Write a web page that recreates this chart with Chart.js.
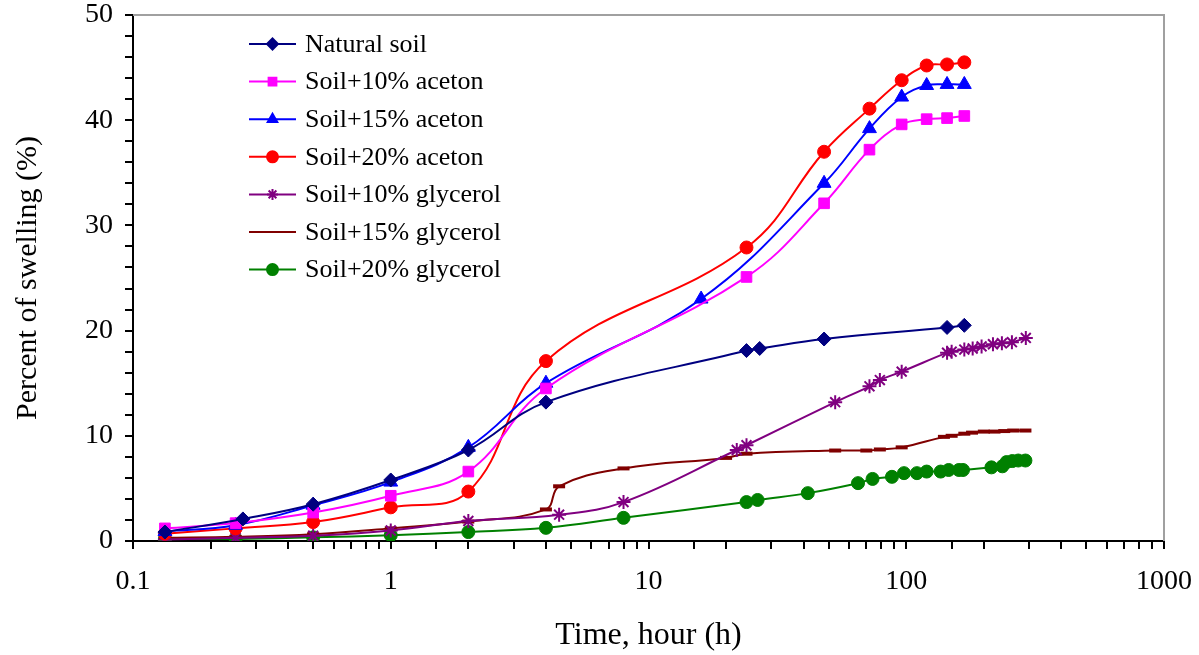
<!DOCTYPE html>
<html>
<head>
<meta charset="utf-8">
<title>Swelling</title>
<script src="https://cdn.jsdelivr.net/npm/chart.js"></script>
<style>
  html, body { margin: 0; padding: 0; background: #fff; }
  #wrap { width: 1199px; height: 655px; }
</style>
</head>
<body>
<div id="wrap"><canvas id="chart" width="1199" height="655"></canvas></div>
<script>
// time in hours, swelling in %
const naturalTime = [0.133, 0.267, 0.5, 1, 2, 4, 24, 27, 48, 144, 168];
const naturalSwell = [0.85, 2.1, 3.5, 5.8, 8.65, 13.2, 18.1, 18.3, 19.2, 20.3, 20.5];

const acet10Time = [0.133, 0.25, 0.5, 1, 2, 4, 24, 48, 72, 96, 120, 144, 168];
const acet10Swell = [1.2, 1.7, 2.7, 4.3, 6.6, 14.5, 25.1, 32.1, 37.2, 39.6, 40.1, 40.2, 40.4];

const acet15Time = [0.133, 0.25, 0.5, 1, 2, 4, 16, 48, 72, 96, 120, 144, 168];
const acet15Swell = [0.9, 1.5, 3.4, 5.6, 8.9, 15.0, 23.0, 34.0, 39.2, 42.2, 43.3, 43.4, 43.4];

const acet20Time = [0.133, 0.25, 0.5, 1, 2, 4, 24, 48, 72, 96, 120, 144, 168];
const acet20Swell = [0.7, 1.2, 1.8, 3.2, 4.7, 17.1, 27.9, 37.0, 41.1, 43.8, 45.2, 45.3, 45.5];

const glyc10Time = [0.133, 0.25, 0.5, 1, 2, 4.5, 8, 22, 24, 53, 72, 79, 96, 144, 150, 168, 181, 196, 217, 235, 257, 291];
const glyc10Swell = [0.15, 0.3, 0.5, 1.0, 1.9, 2.5, 3.7, 8.65, 9.1, 13.2, 14.7, 15.3, 16.1, 17.9, 18.0, 18.2, 18.3, 18.5, 18.7, 18.8, 18.9, 19.3];

const glyc15Time = [0.133, 0.25, 0.5, 1, 2, 4, 4.5, 8, 20, 24, 53, 70, 79, 96, 140, 150, 168, 180, 200, 220, 240, 260, 290];
const glyc15Swell = [0.3, 0.4, 0.65, 1.2, 1.85, 3.0, 5.2, 6.9, 7.9, 8.3, 8.6, 8.6, 8.7, 8.9, 9.9, 10.0, 10.2, 10.3, 10.4, 10.4, 10.45, 10.5, 10.5];

const glyc20Time = [0.133, 0.25, 0.5, 1, 2, 4, 8, 24, 26.5, 41.5, 65, 74, 88, 98, 110, 120, 136, 146, 160, 166, 214, 236, 245, 258, 272, 290];
const glyc20Swell = [0.2, 0.2, 0.35, 0.55, 0.85, 1.25, 2.2, 3.7, 3.9, 4.55, 5.5, 5.9, 6.1, 6.45, 6.45, 6.6, 6.6, 6.75, 6.75, 6.75, 7.0, 7.1, 7.5, 7.6, 7.65, 7.65];

const seriesNames = ['Natural soil', 'Soil+10% aceton', 'Soil+15% aceton', 'Soil+20% aceton',
  'Soil+10% glycerol', 'Soil+15% glycerol', 'Soil+20% glycerol'];

const xTickLabels = [0.1, 1, 10, 100, 1000];

const pts = (t, v) => t.map((x, i) => ({ x: x, y: v[i] }));

const FONT = "'Liberation Serif', 'Times New Roman', serif";

function ds(label, data, color, style, radius, extra) {
  return Object.assign({
    label: label,
    data: data,
    borderColor: color,
    backgroundColor: color,
    pointBackgroundColor: color,
    pointBorderColor: color,
    pointStyle: style,
    pointRadius: radius,
    pointBorderWidth: 1,
    borderWidth: 2,
    tension: 0.4,
    fill: false
  }, extra || {});
}

const datasets = [
  ds(seriesNames[0], pts(naturalTime, naturalSwell), '#000080', 'rectRot', 7),
  ds(seriesNames[1], pts(acet10Time, acet10Swell), '#ff00ff', 'rect', 7.5),
  ds(seriesNames[2], pts(acet15Time, acet15Swell), '#0000ff', 'triangle', 8),
  ds(seriesNames[3], pts(acet20Time, acet20Swell), '#ff0000', 'circle', 6.5),
  ds(seriesNames[4], pts(glyc10Time, glyc10Swell), '#800080', 'star', 7, { pointBorderWidth: 2 }),
  ds(seriesNames[5], pts(glyc15Time, glyc15Swell), '#800000', 'line', 6, { pointBorderWidth: 4 }),
  ds(seriesNames[6], pts(glyc20Time, glyc20Swell), '#008000', 'circle', 6.5)
];

// legend inside the plot, drawn by hand to sit where the original one is
const insideLegend = {
  id: 'insideLegend',
  afterDraw(chart) {
    const ctx = chart.ctx;
    const a = chart.chartArea;
    const x0 = a.left + 116, x1 = a.left + 163, tx = a.left + 172;
    ctx.save();
    ctx.font = '26px ' + FONT;
    ctx.textBaseline = 'middle';
    ctx.fillStyle = '#000';
    chart.data.datasets.forEach((d, i) => {
      const y = a.top + 29 + i * 37.6;
      ctx.strokeStyle = d.borderColor;
      ctx.lineWidth = 2;
      ctx.beginPath();
      ctx.moveTo(x0, y);
      ctx.lineTo(x1, y);
      ctx.stroke();
      ctx.fillStyle = d.borderColor;
      Chart.helpers.drawPoint(ctx, {
        pointStyle: d.pointStyle,
        radius: d.pointStyle === 'line' ? 6 : 5.5,
        rotation: 0,
        borderWidth: d.pointStyle === 'line' ? 4 : (d.pointStyle === 'star' ? 2 : 1)
      }, (x0 + x1) / 2, y);
      ctx.fillStyle = '#000';
      ctx.fillText(d.label, tx, y + 1);
    });
    ctx.restore();
  }
};

// grey frame on top and right of the plot
const frame = {
  id: 'frame',
  beforeDatasetsDraw(chart) {
    const ctx = chart.ctx;
    const a = chart.chartArea;
    ctx.save();
    ctx.strokeStyle = '#a0a0a0';
    ctx.lineWidth = 2;
    ctx.beginPath();
    ctx.moveTo(a.left, a.top);
    ctx.lineTo(a.right, a.top);
    ctx.lineTo(a.right, a.bottom);
    ctx.stroke();
    ctx.restore();
  }
};

new Chart(document.getElementById('chart'), {
  type: 'line',
  data: { datasets: datasets },
  plugins: [insideLegend, frame],
  options: {
    responsive: false,
    animation: false,
    layout: { padding: { top: 15, right: 35, left: 0, bottom: 0 } },
    plugins: {
      legend: { display: false },
      tooltip: { enabled: false }
    },
    scales: {
      x: {
        type: 'logarithmic',
        min: 0.1,
        max: 1000,
        afterFit(scale) {
          scale.height = 114;
          scale.paddingLeft = 0;
          scale.paddingRight = 0;
        },
        border: { color: '#000', width: 2 },
        grid: { drawOnChartArea: false, drawTicks: true, tickLength: 8, color: '#000', lineWidth: 2 },
        ticks: {
          color: '#000',
          font: { family: FONT, size: 28 },
          padding: 16,
          maxRotation: 0,
          autoSkip: false,
          callback(v) {
            return xTickLabels.indexOf(Number(v)) >= 0 ? String(Number(v)) : '';
          }
        },
        title: {
          display: true,
          text: 'Time, hour (h)',
          color: '#000',
          font: { family: FONT, size: 32 },
          padding: { top: 0, bottom: 0 }
        }
      },
      y: {
        min: 0,
        max: 50,
        afterFit(scale) {
          scale.width = 133;
          scale.paddingTop = 0;
          scale.paddingBottom = 0;
        },
        border: { color: '#000', width: 2 },
        grid: { drawOnChartArea: false, drawTicks: true, tickLength: 8, color: '#000', lineWidth: 2 },
        ticks: {
          stepSize: 2,
          color: '#000',
          font: { family: FONT, size: 28 },
          padding: 12,
          autoSkip: false,
          callback(v) { return v % 10 === 0 ? String(v) : ''; }
        },
        title: {
          display: true,
          text: 'Percent of swelling (%)',
          color: '#000',
          font: { family: FONT, size: 30 },
          padding: { top: 10, bottom: 0 }
        }
      }
    }
  }
});
</script>
</body>
</html>
